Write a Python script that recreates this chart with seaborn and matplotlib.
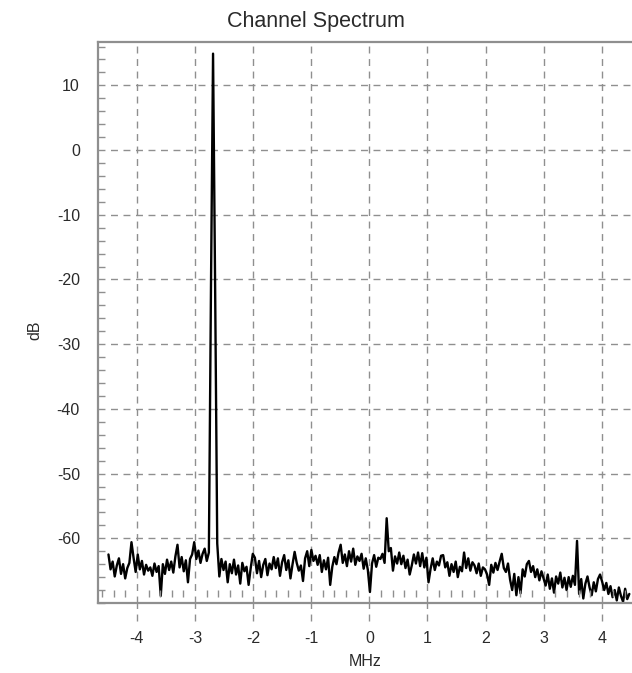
import numpy as np
import pandas as pd
import matplotlib
matplotlib.use("Agg")
import matplotlib.pyplot as plt
from matplotlib.ticker import MultipleLocator
import seaborn as sns

# Frequency bins of the spectrum (MHz)
FREQ_START_MHZ = -4.49
FREQ_STEP_MHZ = 0.036

# Power level per bin (dB)
level_db = [
    -62.5, -64.8, -63.6, -65.9, -64.2, -63.1, -65.5, -64.0, -66.2, -64.6,
    -63.8, -60.6, -63.0, -65.2, -62.5, -64.8, -63.5, -65.6, -64.1, -65.0,
    -64.5, -65.8, -63.9, -65.2, -64.3, -68.9, -64.0, -65.5, -63.3, -64.9,
    -63.6, -65.3, -62.8, -61.0, -64.5, -62.9, -65.1, -63.4, -66.8, -63.2,
    -62.5, -60.6, -63.2, -61.9, -63.8, -62.4, -61.6, -63.5, -62.2, -21.5,
    14.9, -21.5, -60.8, -65.9, -63.2, -64.9, -63.6, -66.8, -64.0, -65.4,
    -63.3, -65.6, -64.2, -67.0, -63.8, -65.1, -64.4, -67.2, -64.6, -62.4,
    -63.0, -65.4, -63.5, -66.0, -64.1, -63.2, -65.7, -63.9, -64.8, -62.9,
    -64.6, -63.1, -65.8, -63.7, -62.6, -64.9, -63.4, -66.2, -64.0, -62.1,
    -63.8, -65.0, -64.2, -66.6, -63.1, -62.0, -64.3, -61.8, -63.5, -62.7,
    -64.1, -62.6, -65.2, -63.4, -64.8, -63.0, -67.2, -64.4, -62.9, -64.0,
    -62.2, -61.0, -63.8, -62.5, -64.3, -62.0, -63.6, -61.6, -64.1, -62.8,
    -63.5, -62.4, -64.7, -63.1, -64.9, -68.3, -63.9, -62.6, -64.4, -63.0,
    -63.2, -62.4, -63.8, -56.9, -62.0, -61.5, -65.0, -62.8, -63.9, -62.2,
    -64.0, -62.7, -64.6, -63.3, -65.6, -64.2, -62.5, -63.9, -62.2, -64.3,
    -62.3, -64.5, -63.0, -66.8, -64.7, -63.1, -64.9, -63.6, -64.2, -62.7,
    -62.6, -64.5, -63.7, -65.8, -64.0, -65.2, -63.6, -66.0, -64.4, -65.1,
    -62.2, -64.6, -63.1, -65.0, -63.7, -64.2, -65.4, -63.9, -65.8, -64.5,
    -64.8, -65.6, -67.2, -64.1, -65.3, -63.8, -64.9, -63.6, -62.4, -64.6,
    -65.2, -63.9, -66.4, -68.0, -65.5, -68.8, -66.0, -68.5, -64.8, -65.9,
    -64.0, -63.5, -65.2, -64.3, -66.0, -64.8, -66.5, -65.1, -66.2, -67.3,
    -65.6, -67.8, -66.2, -68.4, -65.9, -67.0, -65.3, -67.6, -66.1, -68.0,
    -66.0, -67.5, -65.8, -67.2, -60.4, -68.6, -66.3, -69.3, -67.0, -65.9,
    -67.6, -68.8, -66.8, -68.2, -66.3, -65.6, -66.7, -68.0, -66.9, -68.6,
    -67.4, -69.1, -68.0, -69.6, -67.6, -68.9, -69.8, -67.8, -69.4, -68.6,
]

x_ticks = [-4, -3, -2, -1, 0, 1, 2, 3, 4]
y_ticks = [10, 0, -10, -20, -30, -40, -50, -60]
x_limits = (-4.67, 4.52)
y_limits = (-70.0, 16.7)

title_text = "Channel Spectrum"
x_label = "MHz"
y_label = "dB"

sns.set_theme(style="white")
plt.rcParams["font.family"] = ["Liberation Sans", "DejaVu Sans"]
plt.rcParams["axes.unicode_minus"] = False
# tick geometry is fixed before the axes exist so every tick picks it up
plt.rcParams["xtick.major.size"] = 0
plt.rcParams["xtick.major.pad"] = 20
plt.rcParams["xtick.minor.size"] = 0
plt.rcParams["ytick.major.size"] = 4
plt.rcParams["ytick.major.pad"] = 9
plt.rcParams["ytick.minor.size"] = 5

GRID_GRAY = "#8f8f8f"
TEXT_GRAY = "#2a2a2a"
DASH = (0, (5, 4))

freq = FREQ_START_MHZ + FREQ_STEP_MHZ * np.arange(len(level_db))
spectrum = pd.DataFrame({"MHz": freq, "dB": level_db})

W, H = 632, 673
fig = plt.figure(figsize=(W / 100, H / 100), dpi=100)
ax = fig.add_axes([98 / W, 1 - 603 / H, (W - 98) / W, (603 - 42) / H])

sns.lineplot(data=spectrum, x="MHz", y="dB", color="black", linewidth=1.7,
             estimator=None, sort=False, ax=ax)

ax.set_xlim(*x_limits)
ax.set_ylim(*y_limits)
ax.set_xticks(x_ticks)
ax.set_yticks(y_ticks)
ax.set_xticklabels([str(v) for v in x_ticks])
ax.set_yticklabels([str(v) for v in y_ticks])
ax.xaxis.set_minor_locator(MultipleLocator(0.2))
ax.yaxis.set_minor_locator(MultipleLocator(2))

ax.set_axisbelow(True)
ax.grid(True, which="major", linestyle=DASH, color=GRID_GRAY, linewidth=1.0)

for side in ("left", "bottom", "top"):
    ax.spines[side].set_color(GRID_GRAY)
    ax.spines[side].set_linewidth(1.6)
ax.spines["right"].set_visible(False)

ax.tick_params(axis="y", which="major", direction="out", width=1,
               color=GRID_GRAY, labelsize=11.5, labelcolor=TEXT_GRAY)
ax.tick_params(axis="y", which="minor", direction="in", width=1,
               color=GRID_GRAY, left=True)
ax.tick_params(axis="x", which="major", labelsize=11.5, labelcolor=TEXT_GRAY)

# dashed grid continuation below the frequency axis
xform = ax.get_xaxis_transform()
ax.vlines(x_ticks, -0.032, 0.0, transform=xform, clip_on=False,
          colors=GRID_GRAY, linewidth=1.0, linestyles=DASH)
# short minor marks just above the bottom spine
minor_x = [v for v in ax.xaxis.get_minorticklocs()
           if x_limits[0] < v < x_limits[1]]
ax.vlines(minor_x, 0.011, 0.023, transform=xform, colors=GRID_GRAY,
          linewidth=1.0)

ax.set_xlabel(x_label, fontsize=11.5, color=TEXT_GRAY)
ax.set_ylabel(y_label, fontsize=11.5, color=TEXT_GRAY)
ax.xaxis.set_label_coords(0.5, -(662 - 603) / (603 - 42))
ax.xaxis.label.set_va("center")
ax.yaxis.set_label_coords(-(98 - 35) / (W - 98), (603 - 330) / (603 - 42))
ax.yaxis.label.set_va("center")

fig.text(0.5, 1 - 22 / H, title_text, ha="center", va="center",
         fontsize=15.5, color=TEXT_GRAY)

fig.savefig("out.png", dpi=100, facecolor="white")
